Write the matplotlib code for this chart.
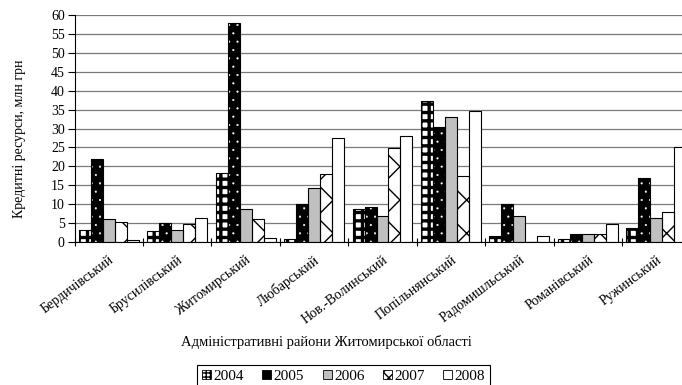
import numpy as np
import matplotlib
matplotlib.use("Agg")
import matplotlib.pyplot as plt
from matplotlib.patches import Patch

plt.rcParams["font.family"] = ["Liberation Serif", "DejaVu Serif"]

districts = ["Бердичівський", "Брусилівський", "Житомирський", "Любарський",
             "Нов.-Волинський", "Попільнянський", "Радомишльський",
             "Романівський", "Ружинський"]
years = ["2004", "2005", "2006", "2007", "2008"]

# кредитні ресурси, млн грн
v2004 = [3.1, 2.8, 18.2, 0.9, 8.6, 37.4, 1.6, 0.8, 3.8]
v2005 = [22.0, 5.0, 58.0, 10.0, 9.3, 30.5, 10.0, 2.0, 16.8]
v2006 = [6.0, 3.1, 8.7, 14.2, 6.9, 33.0, 6.9, 2.0, 6.4]
v2007 = [5.4, 4.8, 6.2, 18.1, 24.9, 17.5, 0.0, 2.0, 7.8]
v2008 = [0.6, 6.3, 1.0, 27.6, 27.9, 34.5, 1.6, 4.8, 25.0]
series = [v2004, v2005, v2006, v2007, v2008]

# face colour, hatch colour, hatch, hatch linewidth
styles = [
    ("white", "black", "++", 2.4),
    ("black", "white", "..", 0.3),
    ("#c0c0c0", "#c0c0c0", None, 1.0),
    ("white", "black", "x", 1.0),
    ("white", "white", None, 1.0),
]

fig = plt.figure(figsize=(6.82, 3.85), dpi=100)
ax = fig.add_axes([74.5 / 682, 143 / 385, 616 / 682, 227 / 385])

x = np.arange(len(districts))
w = 0.175
for i, (vals, (face, hcol, hatch, hlw)) in enumerate(zip(series, styles)):
    pos = x + (i - 2) * w
    with plt.rc_context({"hatch.linewidth": hlw}):
        bars = ax.bar(pos, vals, w, color=face, edgecolor=hcol, hatch=hatch,
                      lw=0, zorder=2)
    for b in bars:
        if hasattr(b, "set_hatch_linewidth"):
            b.set_hatch_linewidth(hlw)
    ax.bar(pos, vals, w, fill=False, edgecolor="black", lw=0.8, zorder=3)

ax.set_xlim(-0.5, len(districts) - 0.5)
ax.set_ylim(0, 60)
ax.set_yticks(np.arange(0, 61, 5))
ax.tick_params(axis="y", length=5, direction="out", labelsize=10, pad=2, width=0.8)

ax.set_xticks(x)
ax.set_xticklabels(districts, rotation=37, ha="right", rotation_mode="anchor", fontsize=10)
ax.tick_params(axis="x", which="major", length=0, pad=8)
ax.set_xticks(np.arange(-0.5, len(districts), 1), minor=True)
ax.tick_params(axis="x", which="minor", length=6, direction="inout", width=0.8)

ax.yaxis.grid(True, color="#7a7a7a", lw=0.9)
ax.set_axisbelow(True)
ax.spines["top"].set_visible(False)
ax.spines["right"].set_visible(False)
ax.spines["left"].set_linewidth(0.8)
ax.spines["bottom"].set_linewidth(0.8)

fig.text(20 / 682, 1 - 139 / 385, "Кредитні ресурси, млн грн", rotation=90,
         ha="center", va="center", fontsize=10)
fig.text(326 / 682, 1 - 342 / 385, "Адміністративні райони Житомирської області",
         ha="center", va="center", fontsize=10.5)

handles = [
    Patch(facecolor="white", edgecolor="black", hatch="++++", lw=0.6),
    Patch(facecolor="black", edgecolor="black", lw=0.6),
    Patch(facecolor="#c0c0c0", edgecolor="black", lw=0.6),
    Patch(facecolor="white", edgecolor="black", hatch="xxx", lw=0.6),
    Patch(facecolor="white", edgecolor="black", lw=0.6),
]
leg = fig.legend(handles, years, loc="upper center",
                 bbox_to_anchor=(343.5 / 682, 1 - 365 / 385), ncol=5,
                 frameon=True, fancybox=False, edgecolor="black", framealpha=1,
                 fontsize=11, handlelength=0.6, handleheight=0.6,
                 handletextpad=0.15, columnspacing=1.2, borderpad=0.3,
                 borderaxespad=0)
leg.get_frame().set_linewidth(0.8)

fig.savefig("out.png", dpi=100)
